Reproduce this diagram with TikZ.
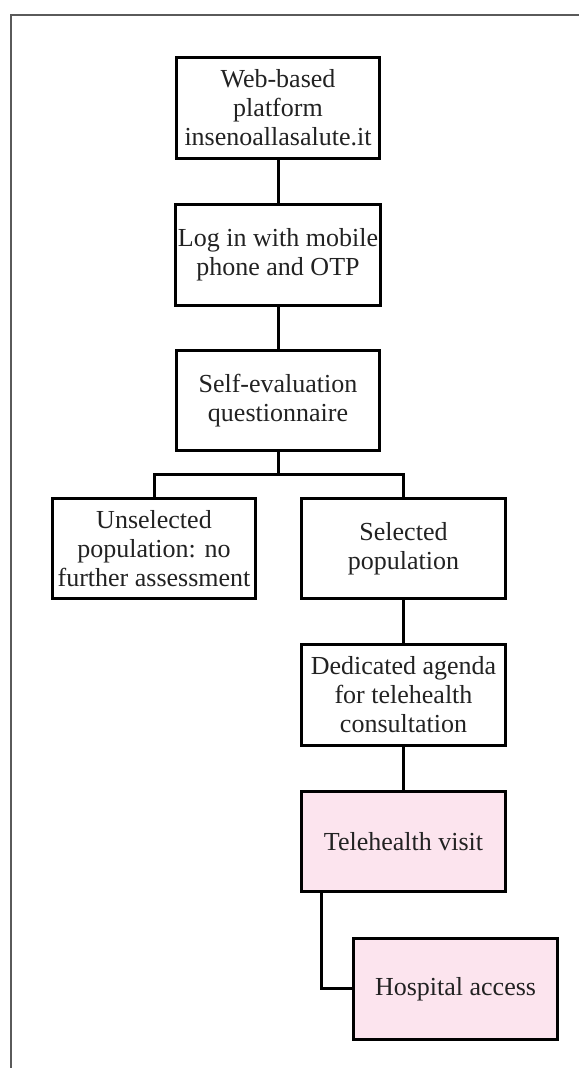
\documentclass[tikz,border=0pt]{standalone}
\usepackage{fontspec}
\setmainfont{Liberation Serif}
\definecolor{pinkfill}{RGB}{252,228,238}
\definecolor{txt}{RGB}{34,34,34}
\definecolor{framegray}{RGB}{90,90,90}
\begin{document}
\begin{tikzpicture}[x=1pt,y=1pt,
  box/.style={draw=black, line width=3pt, fill=white, minimum width=203.5pt, minimum height=100.5pt,
    inner sep=2pt, align=center, text=txt, font=\fontsize{26}{29}\selectfont},
  pinkbox/.style={box, fill=pinkfill},
  link/.style={draw=black, line width=3pt}]
\useasboundingbox (0,0) rectangle (579,1068);
\draw[framegray, line width=2pt] (11,0) -- (11,1053) -- (579,1053);
\node[box] (b1) at (278,960) {Web-based\\platform\\insenoallasalute.it};
\node[box] (b2) at (278,813) {Log in with mobile\\phone and OTP};
\node[box] (b3) at (278,667.5) {Self-evaluation\\questionnaire};
\node[box] (b4) at (154,519.5) {Unselected\\population: no\\further assessment};
\node[box] (b5) at (403.5,519.5) {Selected\\population};
\node[box] (b6) at (403.5,373) {Dedicated agenda\\for telehealth\\consultation};
\node[pinkbox] (b7) at (403.5,226.5) {Telehealth visit};
\node[pinkbox] (b8) at (455.5,79) {Hospital access};
\coordinate (br) at (278,593);
\draw[link] (b1) -- (b2);
\draw[link] (b2) -- (b3);
\draw[link] (b3) -- (br);
\draw[link] (b4.north) |- (br) -| (b5.north);
\draw[link] (b5) -- (b6);
\draw[link] (b6) -- (b7);
\draw[link] (b7.south -| 321,0) |- (b8.west);
\end{tikzpicture}
\end{document}
